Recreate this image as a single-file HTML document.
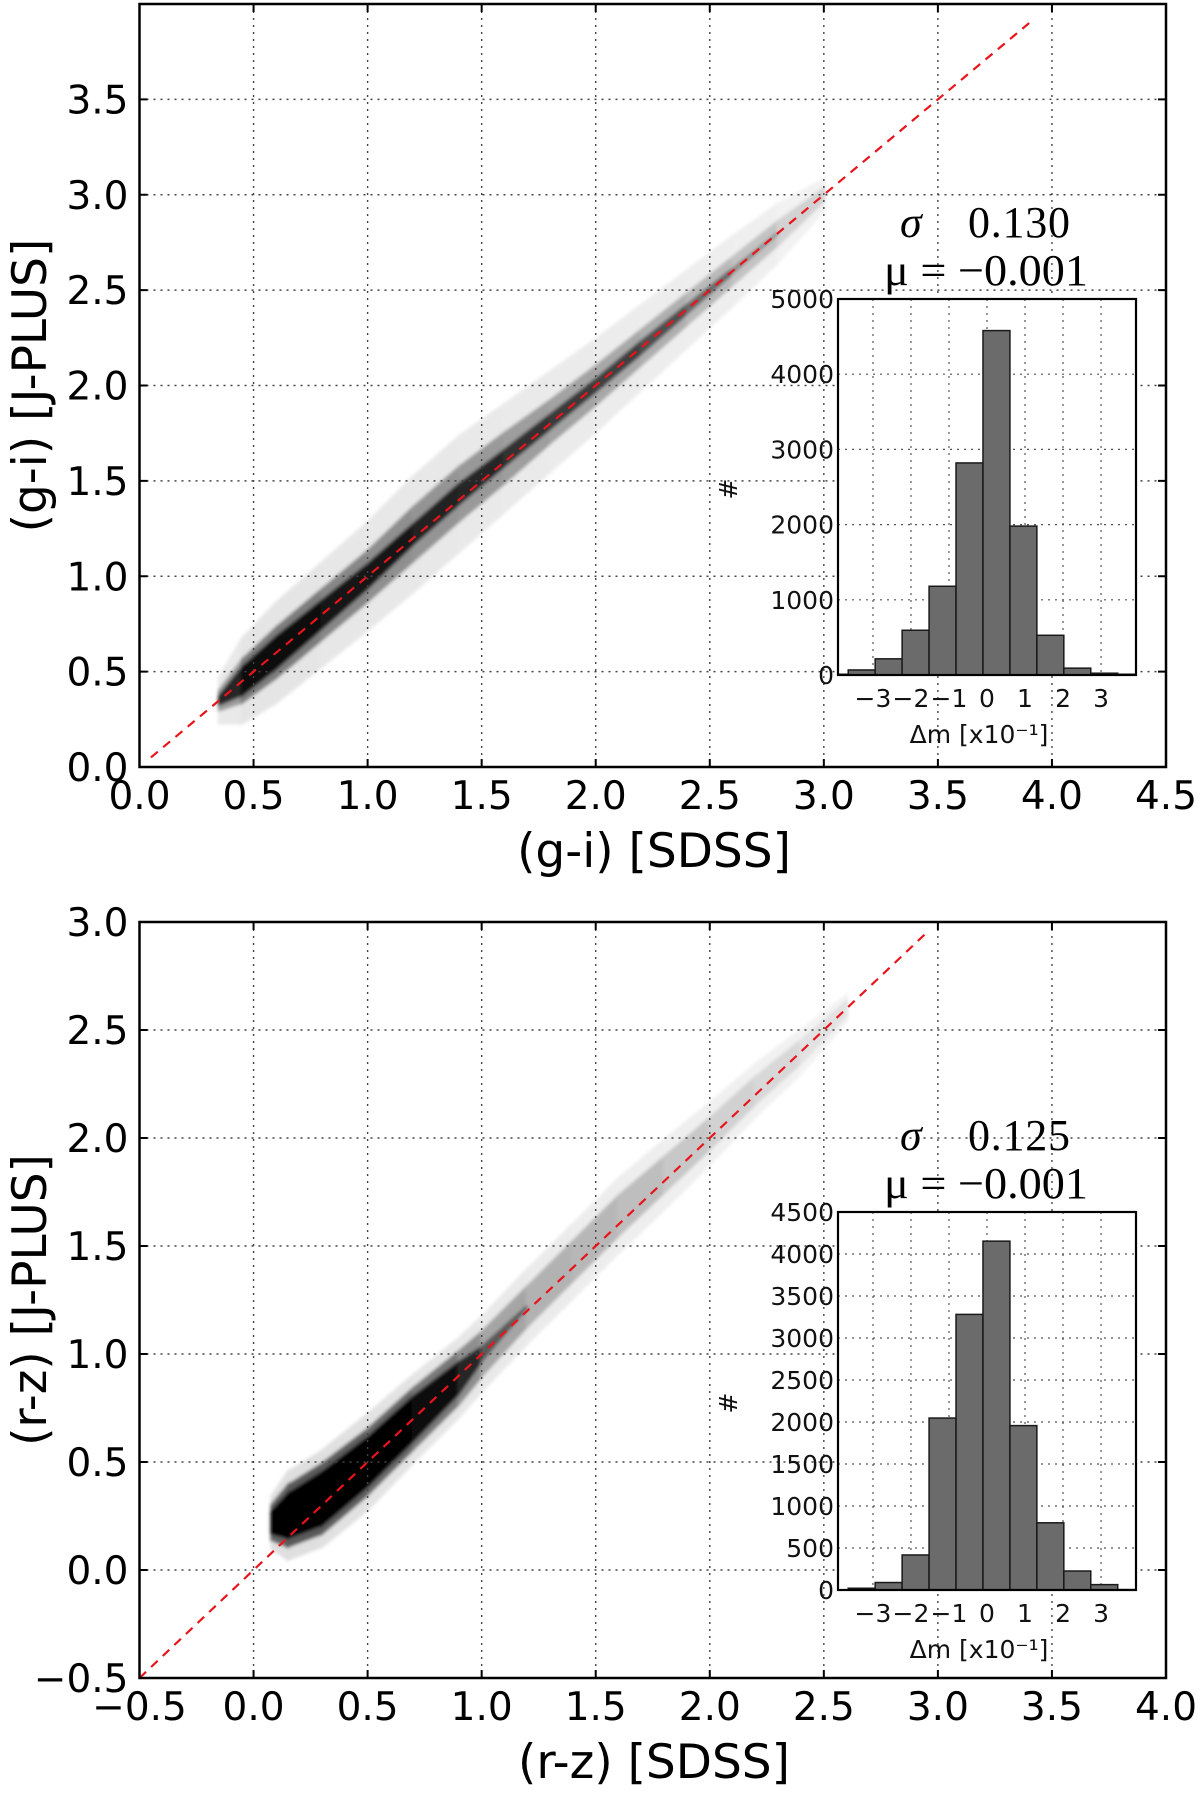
<!DOCTYPE html>
<html><head><meta charset="utf-8"><title>g-i and r-z colour comparison: J-PLUS vs SDSS</title>
<style>
html,body{margin:0;padding:0;background:#fff;}
svg{display:block;}
.tk{font-family:"DejaVu Sans","Liberation Sans",sans-serif;font-size:39px;fill:#000;}
.ax{font-family:"DejaVu Sans","Liberation Sans",sans-serif;font-size:47px;fill:#000;}
.itk{font-family:"DejaVu Sans","Liberation Sans",sans-serif;font-size:25px;fill:#111;}
.st{font-family:"Liberation Serif","DejaVu Serif",serif;font-size:44px;fill:#000;}
</style></head>
<body>
<svg id="fig" width="1200" height="1797" viewBox="0 0 1200 1797" xmlns="http://www.w3.org/2000/svg">
<defs>
<filter id="soft" x="-5%" y="-5%" width="110%" height="110%"><feGaussianBlur stdDeviation="1.5"/></filter>
</defs>
</svg>
<script>
// ---------- Panel 1 density band (g-i) ----------
const p1X      = [0.35, 0.45, 0.6, 0.8, 1.0, 1.2, 1.4, 1.6, 1.8, 2.0, 2.2, 2.4, 2.6, 2.8, 3.0];
const p1Off    = [0.0, 0.0, 0.0, 0.0, 0.0, 0.02, 0.03, 0.02, 0.01, 0.0, 0.0, 0.0, 0.0, 0.0, 0.0];
const p1Core   = [0.02, 0.07, 0.08, 0.07, 0.06, 0.05, 0.05, 0.04, 0.035, 0.03, 0.03, 0.02, 0.01, 0.0, 0.0];
const p1CoreG  = [60, 15, 10, 15, 20, 30, 35, 45, 55, 60, 70, 90, 120, 160, 200];
const p1Mid    = [0.05, 0.11, 0.13, 0.13, 0.13, 0.14, 0.14, 0.13, 0.11, 0.10, 0.09, 0.08, 0.07, 0.06, 0.03];
const p1MidG   = [180, 130, 120, 130, 140, 145, 150, 155, 160, 165, 170, 180, 190, 200, 220];
const p1Halo   = [0.12, 0.22, 0.26, 0.27, 0.28, 0.30, 0.30, 0.28, 0.26, 0.24, 0.22, 0.20, 0.18, 0.15, 0.08];
const p1HaloG  = [235, 230, 228, 230, 232, 232, 232, 234, 234, 236, 236, 238, 238, 240, 244];
// ---------- Panel 2 density band (r-z) ----------
const p2X      = [0.08, 0.15, 0.3, 0.5, 0.7, 0.9, 1.0, 1.2, 1.4, 1.6, 1.8, 2.0, 2.2, 2.4, 2.6];
const p2Off    = [0.14, 0.10, 0.03, 0.0, 0.0, -0.01, 0.0, 0.02, 0.03, 0.04, 0.03, 0.02, 0.02, 0.0, 0.0];
const p2Core   = [0.05, 0.10, 0.12, 0.11, 0.10, 0.07, 0.03, 0.0, 0.0, 0.0, 0.0, 0.0, 0.0, 0.0, 0.0];
const p2CoreG  = [10, 0, 0, 0, 5, 20, 60, 120, 140, 150, 160, 170, 180, 200, 220];
const p2Mid    = [0.08, 0.14, 0.16, 0.15, 0.14, 0.12, 0.10, 0.09, 0.09, 0.09, 0.08, 0.07, 0.06, 0.05, 0.03];
const p2MidG   = [110, 90, 90, 100, 110, 130, 155, 175, 180, 185, 195, 205, 212, 220, 232];
const p2Halo   = [0.12, 0.20, 0.22, 0.22, 0.20, 0.18, 0.17, 0.17, 0.17, 0.17, 0.16, 0.14, 0.12, 0.10, 0.06];
const p2HaloG  = [225, 222, 224, 226, 228, 230, 232, 234, 236, 237, 238, 239, 240, 241, 244];
// ---------- Histograms ----------
const binStart = -4.36;
const binWidth = 0.709;
const hist1Counts = [10, 67, 215, 595, 1180, 2820, 4580, 1980, 528, 91, 24, 10];
const hist2Counts = [0, 21, 89, 417, 2047, 3281, 4153, 1957, 800, 226, 64, 5];
const hist1YTicks = [0, 1000, 2000, 3000, 4000, 5000];
const hist2YTicks = [0, 500, 1000, 1500, 2000, 2500, 3000, 3500, 4000, 4500];
const histXTicks  = [-3, -2, -1, 0, 1, 2, 3];
// ---------- Main axes ticks ----------
const p1XTicks = [0.0, 0.5, 1.0, 1.5, 2.0, 2.5, 3.0, 3.5, 4.0, 4.5];
const p1YTicks = [0.0, 0.5, 1.0, 1.5, 2.0, 2.5, 3.0, 3.5];
const p2XTicks = [-0.5, 0.0, 0.5, 1.0, 1.5, 2.0, 2.5, 3.0, 3.5, 4.0];
const p2YTicks = [-0.5, 0.0, 0.5, 1.0, 1.5, 2.0, 2.5, 3.0];
const p1Stats = ["0.130", "\u22120.001"];
const p2Stats = ["0.125", "\u22120.001"];

const NS = "http://www.w3.org/2000/svg";
const svg = document.getElementById("fig");
function mk(tag, attrs, parent) {
  const e = document.createElementNS(NS, tag);
  for (const k in attrs) e.setAttribute(k, attrs[k]);
  (parent || svg).appendChild(e);
  return e;
}
function fmt(v) { return (v < 0 ? "\u2212" : "") + Math.abs(v).toFixed(1); }

function panel(id, box, xr, yr, xT, yT, band, lineEnd, xlab, ylab) {
  const sx = v => box.l + (v - xr[0]) / (xr[1] - xr[0]) * (box.r - box.l);
  const sy = v => box.b - (v - yr[0]) / (yr[1] - yr[0]) * (box.b - box.t);
  const g = mk("g", {});
  
  
  const cp = mk("clipPath", {id: id + "clip"}, svg);
  mk("rect", {x: box.l, y: box.t, width: box.r - box.l, height: box.b - box.t}, cp);
  const dg = mk("g", {"clip-path": "url(#" + id + "clip)", filter: "url(#soft)"}, g);
  
  
  const layers = [[band.halo, band.haloG], [band.mid, band.midG], [band.core, band.coreG]];
  layers.forEach(([w, gcol]) => {
    for (let i = 0; i < band.x.length - 1; i++) {
      const x0 = band.x[i], x1 = band.x[i + 1];
      const c0 = x0 + band.off[i], c1 = x1 + band.off[i + 1];
      if (w[i] <= 0 && w[i + 1] <= 0) continue;
      const pts = [[sx(x0), sy(c0 + w[i])], [sx(x1), sy(c1 + w[i + 1])], [sx(x1), sy(c1 - w[i + 1])], [sx(x0), sy(c0 - w[i])]];
      const gv = Math.round((gcol[i] + gcol[i + 1]) / 2);
      const p = mk("polygon", {points: pts.map(q => q.join(",")).join(" "), fill: "rgb(" + gv + "," + gv + "," + gv + ")", stroke: "rgb(" + gv + "," + gv + "," + gv + ")", "stroke-width": 3}, dg);
      
      
    }
  });
  xT.forEach(v => {
    const l = mk("line", {x1: sx(v), x2: sx(v), y1: box.t, y2: box.b, stroke: "#444", "stroke-width": 1.4, "stroke-dasharray": "2,5"}, g);
    
    
  });
  yT.forEach(v => {
    const l = mk("line", {x1: box.l, x2: box.r, y1: sy(v), y2: sy(v), stroke: "#444", "stroke-width": 1.4, "stroke-dasharray": "2,5"}, g);
    
    
  });
  const rl = mk("line", {x1: sx(lineEnd[0]), y1: sy(lineEnd[0]), x2: sx(lineEnd[1]), y2: sy(lineEnd[1]), stroke: "#e8141b", "stroke-width": 2.2, "stroke-dasharray": "9,7", "clip-path": "url(#" + id + "clip)"}, g);
  
  
  const fr = mk("rect", {x: box.l, y: box.t, width: box.r - box.l, height: box.b - box.t, fill: "none", stroke: "#000", "stroke-width": 2.5}, g);
  
  
  xT.forEach(v => {
    mk("line", {x1: sx(v), x2: sx(v), y1: box.b, y2: box.b - 8, stroke: "#000", "stroke-width": 2}, g);
    mk("line", {x1: sx(v), x2: sx(v), y1: box.t, y2: box.t + 8, stroke: "#000", "stroke-width": 2}, g);
    const t = mk("text", {x: sx(v), y: box.b + 42, "text-anchor": "middle", class: "tk"}, g);
    t.textContent = fmt(v);
    
    
  });
  yT.forEach(v => {
    mk("line", {x1: box.l, x2: box.l + 8, y1: sy(v), y2: sy(v), stroke: "#000", "stroke-width": 2}, g);
    mk("line", {x1: box.r, x2: box.r - 8, y1: sy(v), y2: sy(v), stroke: "#000", "stroke-width": 2}, g);
    const t = mk("text", {x: box.l - 11, y: sy(v) + 14, "text-anchor": "end", class: "tk"}, g);
    t.textContent = fmt(v);
    
    
  });
  const xl = mk("text", {x: 654, y: box.b + 100, "text-anchor": "middle", class: "ax"}, g);
  xl.textContent = xlab;
  
  
  const cy = (box.t + box.b) / 2;
  const yl = mk("text", {x: 46, y: cy, "text-anchor": "middle", class: "ax", transform: "rotate(-90 46 " + cy + ")"}, g);
  yl.textContent = ylab;
  
  
}

function inset(id, box, ymax, counts, yT, stats) {
  const xr = [-3.92, 3.92];
  const sx = v => box.l + (v - xr[0]) / (xr[1] - xr[0]) * (box.r - box.l);
  const sy = v => box.b - v / ymax * (box.b - box.t);
  const g = mk("g", {});
  
  
  const cp = mk("clipPath", {id: id + "clip"}, svg);
  mk("rect", {x: box.l, y: box.t, width: box.r - box.l, height: box.b - box.t}, cp);
  mk("rect", {x: box.l, y: box.t, width: box.r - box.l, height: box.b - box.t, fill: "#fff"}, g);
  histXTicks.forEach(v => {
    const l = mk("line", {x1: sx(v), x2: sx(v), y1: box.t, y2: box.b, stroke: "#555", "stroke-width": 1.2, "stroke-dasharray": "2,5"}, g);
    
    
  });
  yT.forEach(v => {
    const l = mk("line", {x1: box.l, x2: box.r, y1: sy(v), y2: sy(v), stroke: "#555", "stroke-width": 1.2, "stroke-dasharray": "2,5"}, g);
    
    
  });
  const bg = mk("g", {"clip-path": "url(#" + id + "clip)"}, g);
  counts.forEach((c, i) => {
    const a = binStart + i * binWidth, b = a + binWidth;
    const r = mk("rect", {x: sx(a), y: sy(c), width: sx(b) - sx(a), height: box.b - sy(c), fill: "#6b6b6b", stroke: "#1a1a1a", "stroke-width": 1.5}, bg);
    
    
  });
  const fr = mk("rect", {x: box.l, y: box.t, width: box.r - box.l, height: box.b - box.t, fill: "none", stroke: "#000", "stroke-width": 2.2}, g);
  
  
  yT.forEach(v => {
    const t = mk("text", {x: box.l - 4, y: sy(v) + 9, "text-anchor": "end", class: "itk"}, g);
    t.textContent = String(v);
    
    
  });
  histXTicks.forEach(v => {
    const t = mk("text", {x: sx(v), y: box.b + 32, "text-anchor": "middle", class: "itk"}, g);
    t.textContent = (v < 0 ? "\u2212" : "") + Math.abs(v);
    
    
  });
  const xl = mk("text", {x: (box.l + box.r) / 2 - 8, y: box.b + 68, "text-anchor": "middle", class: "itk"}, g);
  xl.textContent = "\u0394m [x10\u207B\u00B9]";
  
  
  const cy = (box.t + box.b) / 2 + 2;
  const yl = mk("text", {x: 727, y: cy + 10, "text-anchor": "middle", class: "itk", "font-size": "30", transform: "rotate(-90 727 " + cy + ")"}, g);
  yl.textContent = "#";
  
  
  const s1 = mk("text", {x: 900, y: box.t - 62, class: "st", "font-style": "italic"}, g);
  s1.textContent = "\u03C3";
  
  
  const s2 = mk("text", {x: 968, y: box.t - 62, class: "st", textLength: 102}, g);
  s2.textContent = stats[0];
  
  
  const m1 = mk("text", {x: 884, y: box.t - 14, class: "st", textLength: 204, lengthAdjust: "spacingAndGlyphs"}, g);
  m1.textContent = "\u03BC = " + stats[1];
  
  
}

panel("p1", {l: 139.5, r: 1166, t: 4, b: 767}, [0, 4.5], [0, 4], p1XTicks, p1YTicks,
  {x: p1X, off: p1Off, core: p1Core, coreG: p1CoreG, mid: p1Mid, midG: p1MidG, halo: p1Halo, haloG: p1HaloG},
  [0.05, 3.9], "(g-i) [SDSS]", "(g-i) [J-PLUS]");
panel("p2", {l: 139.5, r: 1166, t: 922, b: 1678}, [-0.5, 4.0], [-0.5, 3.0], p2XTicks, p2YTicks,
  {x: p2X, off: p2Off, core: p2Core, coreG: p2CoreG, mid: p2Mid, midG: p2MidG, halo: p2Halo, haloG: p2HaloG},
  [-0.5, 2.95], "(r-z) [SDSS]", "(r-z) [J-PLUS]");
inset("h1", {l: 838, r: 1136, t: 299, b: 675}, 5000, hist1Counts, hist1YTicks, p1Stats);
inset("h2", {l: 838, r: 1136, t: 1212, b: 1590}, 4500, hist2Counts, hist2YTicks, p2Stats);
</script>
</body></html>
